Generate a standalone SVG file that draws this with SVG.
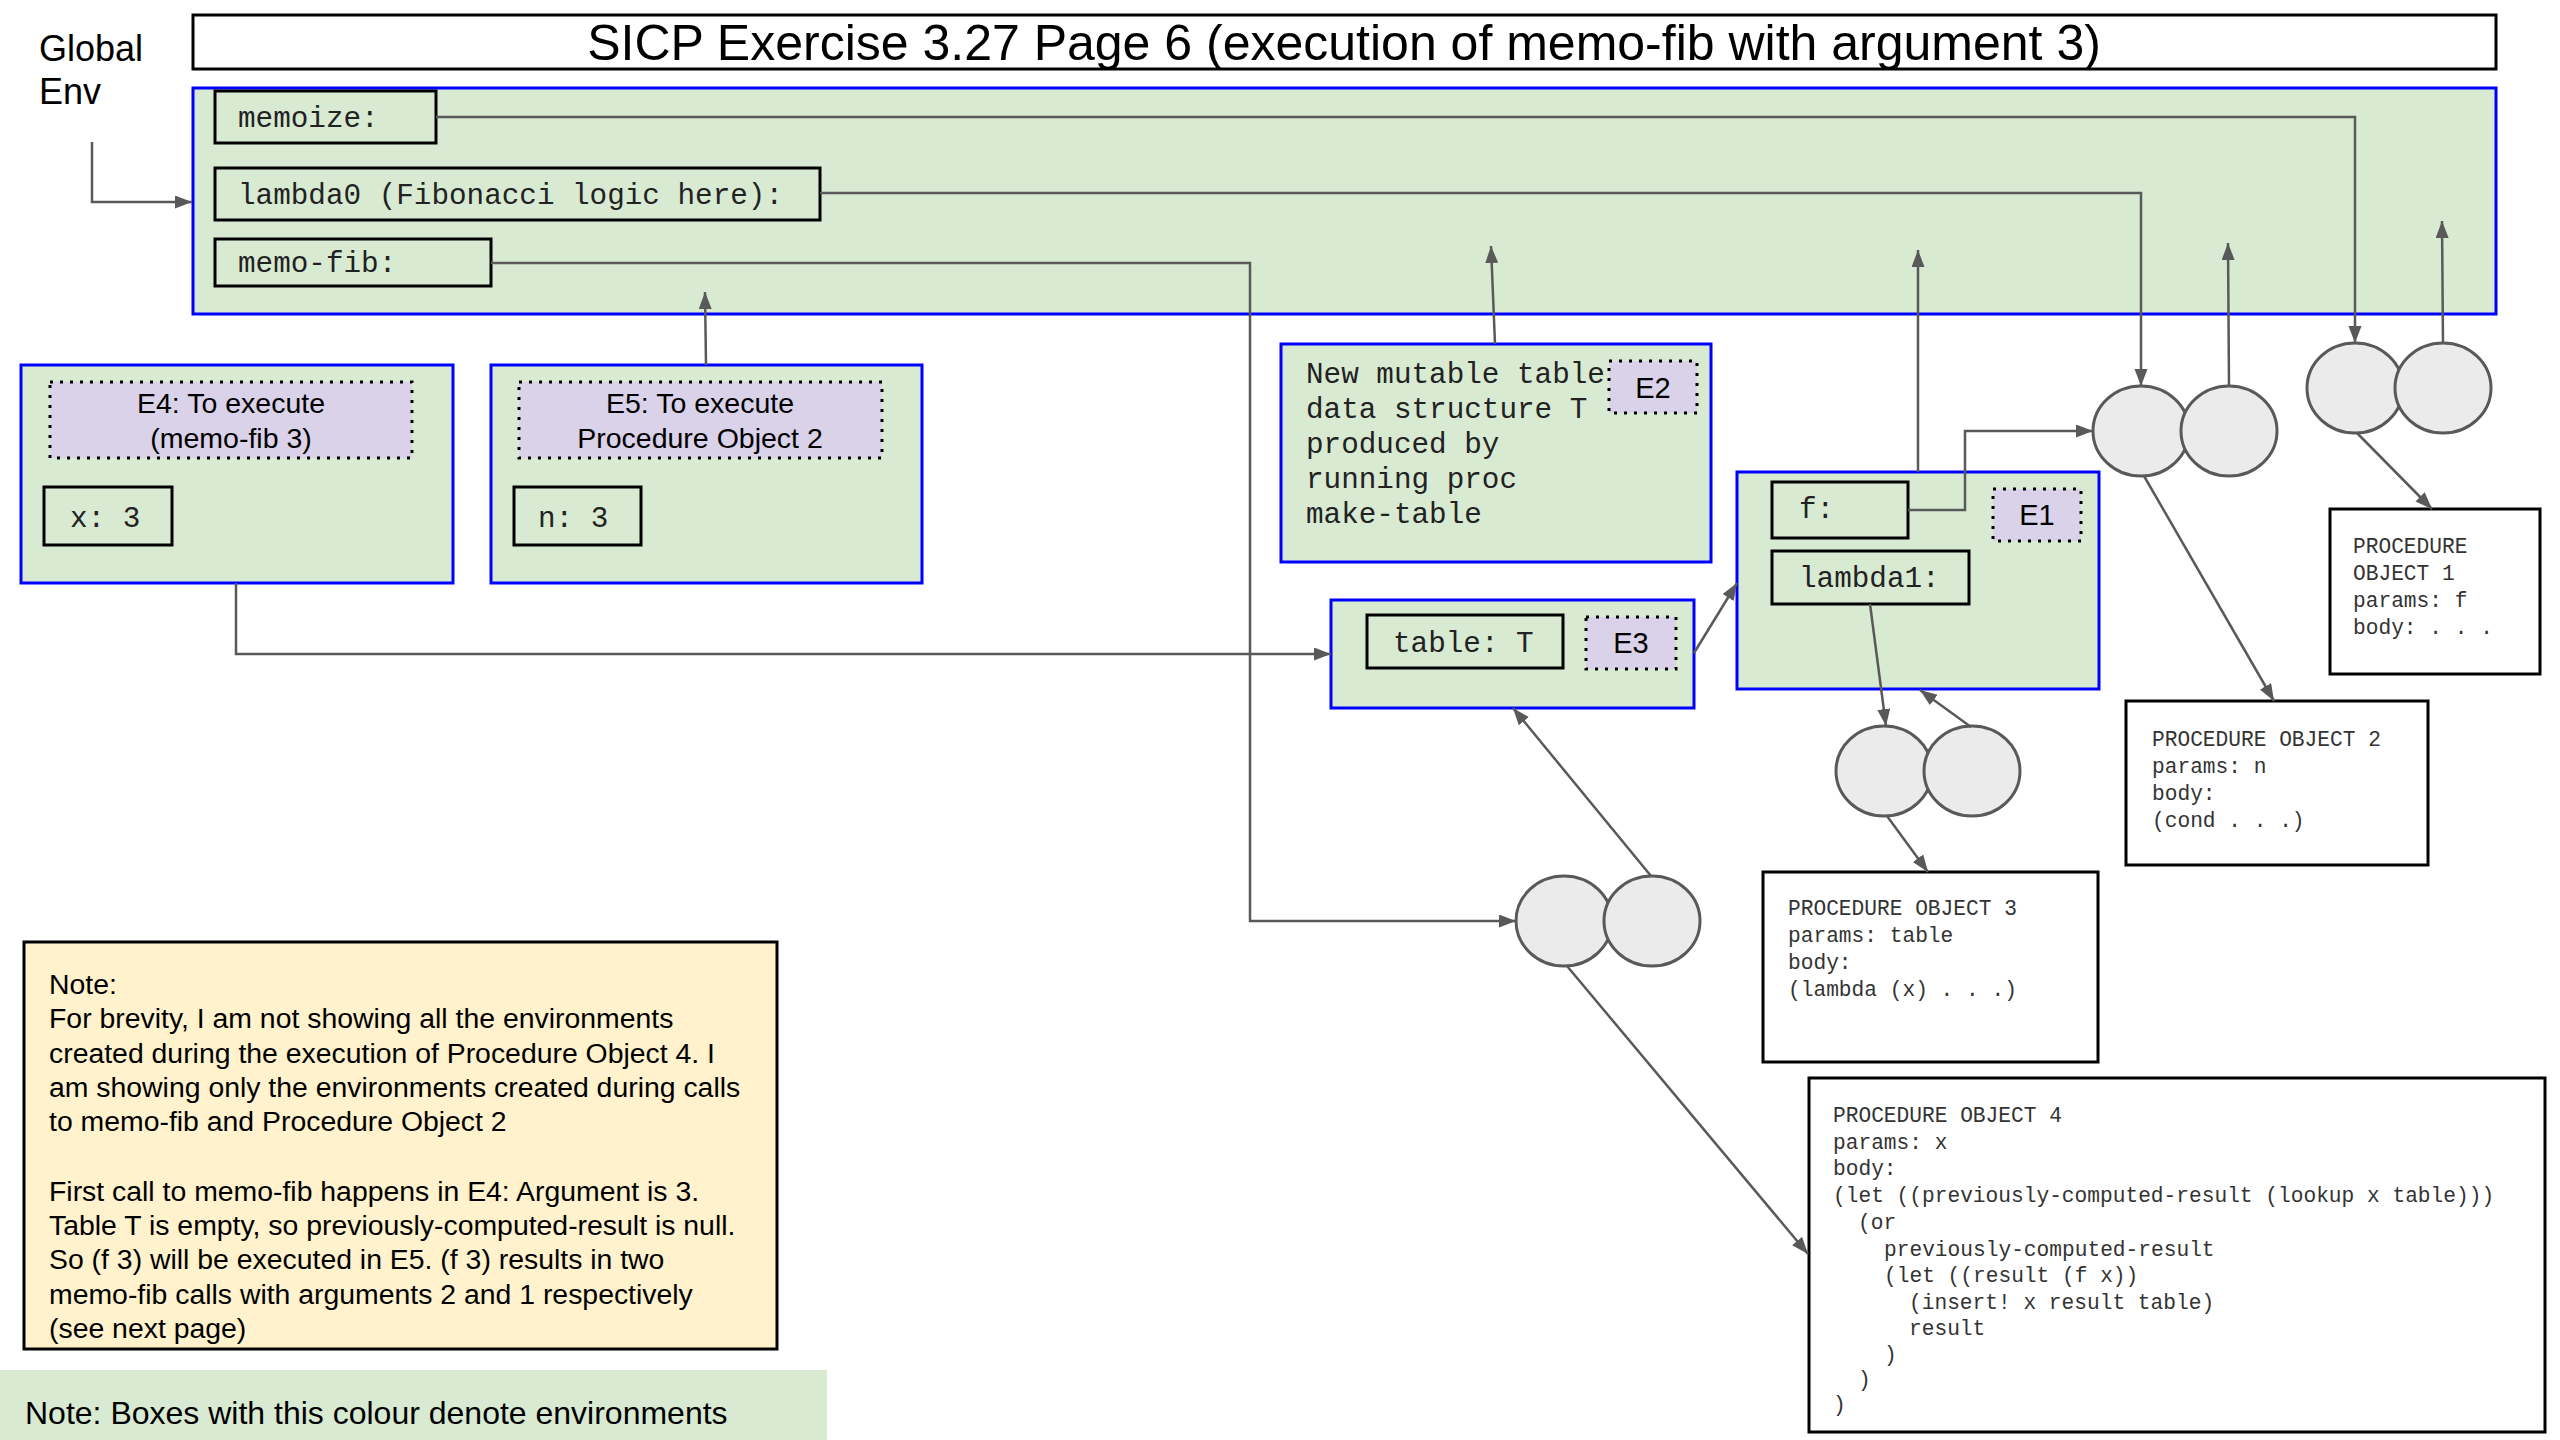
<svg xmlns="http://www.w3.org/2000/svg" width="2560" height="1440" viewBox="0 0 2560 1440">
<style>
.sans{font-family:"Liberation Sans",Arial,sans-serif;fill:#000}
.mono{font-family:"Liberation Mono","Courier New",monospace;fill:#222;font-size:29.3px}
.po{font-family:"Liberation Mono","Courier New",monospace;fill:#333;font-size:21.2px}
.env{fill:#d9ead3;stroke:#0000ff;stroke-width:3}
.bind{fill:none;stroke:#000;stroke-width:3}
.lbl{fill:#d9d2e9;stroke:#000;stroke-width:3;stroke-dasharray:3 7}
.pobox{fill:#fff;stroke:#000;stroke-width:3}
.cell{fill:#ebebeb;stroke:#595959;stroke-width:3}
.conn{fill:none;stroke:#595959;stroke-width:2.5}
</style>
<defs>
<marker id="ah" markerUnits="userSpaceOnUse" markerWidth="18" markerHeight="14" refX="17" refY="6.5" orient="auto">
<path d="M0,0 L17,6.5 L0,13 z" fill="#595959"/>
</marker>
</defs>
<rect width="2560" height="1440" fill="#fff"/>

<g id="global-env-label">
<text class="sans" x="39" y="61" font-size="36">Global</text>
<text class="sans" x="39" y="104" font-size="36">Env</text>
</g>

<g id="title">
<rect x="193" y="15" width="2303" height="54" fill="#fff" stroke="#000" stroke-width="3"/>
<text class="sans" x="1344" y="60" font-size="50" text-anchor="middle">SICP Exercise 3.27 Page 6 (execution of memo-fib with argument 3)</text>
</g>

<g id="global-env">
<rect class="env" x="193" y="88" width="2303" height="226"/>
<rect class="bind" x="215" y="91" width="221" height="52"/>
<text class="mono" x="238" y="127">memoize:</text>
<rect class="bind" x="215" y="168" width="605" height="52"/>
<text class="mono" x="238" y="204">lambda0 (Fibonacci logic here):</text>
<rect class="bind" x="215" y="239" width="276" height="47"/>
<text class="mono" x="238" y="272">memo-fib:</text>
</g>

<g id="E4">
<rect class="env" x="21" y="365" width="432" height="218"/>
<rect class="lbl" x="50" y="382" width="362" height="76"/>
<text class="sans" x="231" y="413" font-size="28.5" text-anchor="middle">E4: To execute</text>
<text class="sans" x="231" y="448" font-size="28.5" text-anchor="middle">(memo-fib 3)</text>
<rect class="bind" x="44" y="487" width="128" height="58"/>
<text class="mono" x="70" y="527">x: 3</text>
</g>

<g id="E5">
<rect class="env" x="491" y="365" width="431" height="218"/>
<rect class="lbl" x="519" y="382" width="363" height="76"/>
<text class="sans" x="700" y="413" font-size="28.5" text-anchor="middle">E5: To execute</text>
<text class="sans" x="700" y="448" font-size="28.5" text-anchor="middle">Procedure Object 2</text>
<rect class="bind" x="514" y="487" width="127" height="58"/>
<text class="mono" x="538" y="527">n: 3</text>
</g>

<g id="E2">
<rect class="env" x="1281" y="344" width="430" height="218"/>
<text class="mono" x="1306" y="383">New mutable table</text>
<text class="mono" x="1306" y="418">data structure T</text>
<text class="mono" x="1306" y="453">produced by</text>
<text class="mono" x="1306" y="488">running proc</text>
<text class="mono" x="1306" y="523">make-table</text>
<rect class="lbl" x="1609" y="361" width="88" height="52"/>
<text class="sans" x="1653" y="398" font-size="29" text-anchor="middle">E2</text>
</g>

<g id="E3">
<rect class="env" x="1331" y="600" width="363" height="108"/>
<rect class="bind" x="1367" y="615" width="196" height="53"/>
<text class="mono" x="1393" y="652">table: T</text>
<rect class="lbl" x="1586" y="617" width="90" height="52"/>
<text class="sans" x="1631" y="653" font-size="29" text-anchor="middle">E3</text>
</g>

<g id="E1">
<rect class="env" x="1737" y="472" width="362" height="217"/>
<rect class="bind" x="1772" y="482" width="136" height="56"/>
<text class="mono" x="1799" y="518">f:</text>
<rect class="bind" x="1772" y="551" width="197" height="53"/>
<text class="mono" x="1799" y="587">lambda1:</text>
<rect class="lbl" x="1993" y="489" width="88" height="52"/>
<text class="sans" x="2037" y="525" font-size="29" text-anchor="middle">E1</text>
</g>

<g id="pair1">
<ellipse class="cell" cx="1564" cy="921" rx="48" ry="45"/>
<ellipse class="cell" cx="1652" cy="921" rx="48" ry="45"/>
</g>
<g id="pair2">
<ellipse class="cell" cx="2141" cy="431" rx="48" ry="45"/>
<ellipse class="cell" cx="2229" cy="431" rx="48" ry="45"/>
</g>
<g id="pair3">
<ellipse class="cell" cx="1884" cy="771" rx="48" ry="45"/>
<ellipse class="cell" cx="1972" cy="771" rx="48" ry="45"/>
</g>
<g id="pair4">
<ellipse class="cell" cx="2355" cy="388" rx="48" ry="45"/>
<ellipse class="cell" cx="2443" cy="388" rx="48" ry="45"/>
</g>

<g id="po1">
<rect class="pobox" x="2330" y="509" width="210" height="165"/>
<text class="po" x="2353" y="553">PROCEDURE</text>
<text class="po" x="2353" y="580">OBJECT 1</text>
<text class="po" x="2353" y="607">params: f</text>
<text class="po" x="2353" y="634">body: . . .</text>
</g>

<g id="po2">
<rect class="pobox" x="2126" y="701" width="302" height="164"/>
<text class="po" x="2152" y="746">PROCEDURE OBJECT 2</text>
<text class="po" x="2152" y="773">params: n</text>
<text class="po" x="2152" y="800">body:</text>
<text class="po" x="2152" y="827">(cond . . .)</text>
</g>

<g id="po3">
<rect class="pobox" x="1763" y="872" width="335" height="190"/>
<text class="po" x="1788" y="915">PROCEDURE OBJECT 3</text>
<text class="po" x="1788" y="942">params: table</text>
<text class="po" x="1788" y="969">body:</text>
<text class="po" x="1788" y="996">(lambda (x) . . .)</text>
</g>

<g id="po4">
<rect class="pobox" x="1809" y="1078" width="736" height="354"/>
<text class="po" x="1833" y="1122">PROCEDURE OBJECT 4</text>
<text class="po" x="1833" y="1149">params: x</text>
<text class="po" x="1833" y="1175">body:</text>
<text class="po" x="1833" y="1202">(let ((previously-computed-result (lookup x table)))</text>
<text class="po" x="1858" y="1229">(or</text>
<text class="po" x="1884" y="1256">previously-computed-result</text>
<text class="po" x="1884" y="1282">(let ((result (f x))</text>
<text class="po" x="1909" y="1309">(insert! x result table)</text>
<text class="po" x="1909" y="1335">result</text>
<text class="po" x="1884" y="1361">)</text>
<text class="po" x="1858" y="1386">)</text>
<text class="po" x="1833" y="1411">)</text>
</g>

<g id="note">
<rect x="24" y="942" width="753" height="407" fill="#fff2cc" stroke="#000" stroke-width="3"/>
<g class="sans" font-size="28.4">
<text x="49" y="994">Note:</text>
<text x="49" y="1028">For brevity, I am not showing all the environments</text>
<text x="49" y="1063">created during the execution of Procedure Object 4. I</text>
<text x="49" y="1097">am showing only the environments created during calls</text>
<text x="49" y="1131">to memo-fib and Procedure Object 2</text>
<text x="49" y="1201">First call to memo-fib happens in E4: Argument is 3.</text>
<text x="49" y="1235">Table T is empty, so previously-computed-result is null.</text>
<text x="49" y="1269">So (f 3) will be executed in E5. (f 3) results in two</text>
<text x="49" y="1304">memo-fib calls with arguments 2 and 1 respectively</text>
<text x="49" y="1338">(see next page)</text>
</g>
</g>

<g id="legend">
<rect x="0" y="1370" width="827" height="70" fill="#d9ead3"/>
<text class="sans" x="25" y="1424" font-size="32">Note: Boxes with this colour denote environments</text>
</g>

<g id="connectors">
<path class="conn" d="M92,142 V202 H192" marker-end="url(#ah)"/>
<path class="conn" d="M436,117 H2355 V343" marker-end="url(#ah)"/>
<path class="conn" d="M2443,343 L2442,221" marker-end="url(#ah)"/>
<path class="conn" d="M820,193 H2141 V386" marker-end="url(#ah)"/>
<path class="conn" d="M2229,386 L2228,243" marker-end="url(#ah)"/>
<path class="conn" d="M491,263 H1250 V921 H1516" marker-end="url(#ah)"/>
<path class="conn" d="M706,365 L705,292" marker-end="url(#ah)"/>
<path class="conn" d="M1495,344 L1491,246" marker-end="url(#ah)"/>
<path class="conn" d="M1918,472 L1918,250" marker-end="url(#ah)"/>
<path class="conn" d="M1908,510 H1965 V431 H2093" marker-end="url(#ah)"/>
<path class="conn" d="M1694,653 L1737,583" marker-end="url(#ah)"/>
<path class="conn" d="M236,583 V654 H1331" marker-end="url(#ah)"/>
<path class="conn" d="M1870,604 L1886,726" marker-end="url(#ah)"/>
<path class="conn" d="M1971,727 L1920,690" marker-end="url(#ah)"/>
<path class="conn" d="M1887,816 L1928,872" marker-end="url(#ah)"/>
<path class="conn" d="M2357,433 L2432,509" marker-end="url(#ah)"/>
<path class="conn" d="M2144,476 L2274,701" marker-end="url(#ah)"/>
<path class="conn" d="M1651,876 L1513,708" marker-end="url(#ah)"/>
<path class="conn" d="M1567,966 L1808,1254" marker-end="url(#ah)"/>
</g>
</svg>
